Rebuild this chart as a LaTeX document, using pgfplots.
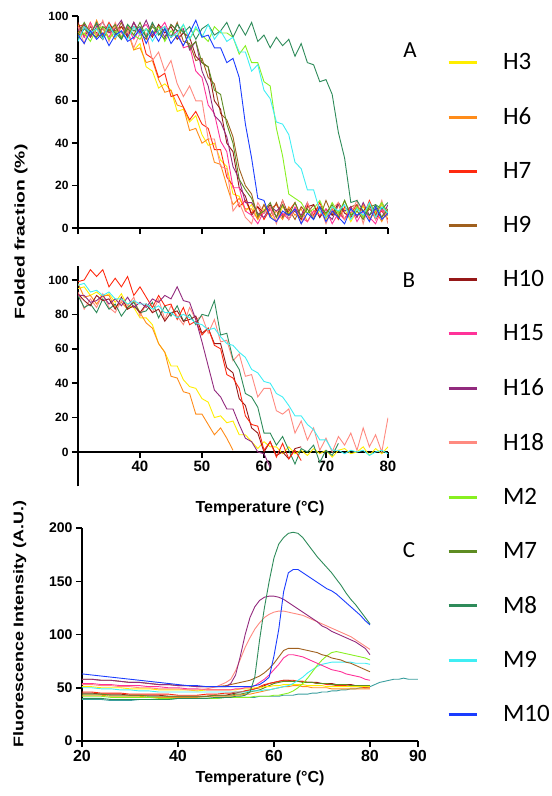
\documentclass[border=0pt]{standalone}
\usepackage{pgfplots}
\pgfplotsset{compat=1.18}
\usepackage{pgfplotstable}
\usepackage{graphicx}
\usepackage{fontspec}
\setmainfont{Liberation Sans}
\newfontfamily\carlito{Carlito}

\definecolor{cH3}{HTML}{FFEE00}
\definecolor{cH6}{HTML}{FF8C1A}
\definecolor{cH7}{HTML}{FF2A10}
\definecolor{cH9}{HTML}{A0601E}
\definecolor{cH10}{HTML}{961818}
\definecolor{cH15}{HTML}{FF3399}
\definecolor{cH16}{HTML}{922A7E}
\definecolor{cH18}{HTML}{FF8A80}
\definecolor{cM2}{HTML}{88F020}
\definecolor{cM7}{HTML}{5E8C22}
\definecolor{cM8}{HTML}{2E8B5A}
\definecolor{cM9}{HTML}{40EEF4}
\definecolor{cM10}{HTML}{1A3CFF}
\definecolor{cT}{HTML}{3A9E9E}

\pgfplotstableread{
x H3 H6 H7 H9 H10 H15 H16 H18 M2 M7 M8 M9 M10
30 96 92 95 90 97 95 93 95 90 91 89 88 91
31 91 96 96 95 90 90 96 87 92 97 94 95 87
32 97 90 90 93 95 97 90 96 88 92 91 92 93
33 90 98 94 96 92 91 95 91 94 90 97 94 89
34 94 91 91 89 89 94 97 98 95 95 90 89 92
35 89 93 97 94 96 90 92 88 89 93 95 96 86
36 95 89 92 91 93 96 94 97 93 96 92 90 91
37 92 95 90 97 95 92 98 90 90 89 89 93 93
38 93 93 95 90 90 95 91 93 96 94 96 89 88
39 84 84 93 95 97 89 97 85 91 91 93 95 90
40 87 85 93 92 91 94 92 92 89 97 95 91 94
41 76 78 82 89 94 96 98 92 94 90 90 94 87
42 74 79 80 96 90 91 91 79 92 95 97 88 93
43 66 70 71 93 96 93 95 83 95 92 91 93 88
44 68 64 73 95 92 97 90 74 88 89 94 95 94
45 65 65 62 90 95 90 96 79 93 96 90 90 87
46 55 58 63 97 89 93 93 68 90 93 96 92 91
47 56 57 57 88 92 85 94 62 96 93 92 96 86
48 50 46 51 87 90 86 84 67 89 85 95 89 92
49 53 47 55 79 81 74 88 60 94 88 89 95 98
50 44 40 49 80 78 71 74 60 91 78 94 90 90
51 39 42 47 71 76 58 67 42 88 76 96 96 91
52 40 31 37 68 60 54 53 42 95 65 91 89 85
53 32 30 37 54 56 41 50 29 92 63 93 93 85
54 29 20 24 51 40 36 43 28 92 49 97 88 78
55 16 11 20 43 36 19 29 8 90 40 90 90 80
56 15 14 10 28 19 19 23 12 82 23 96 83 71
57 8 9 13 20 15 8 12 5 86 18 91 83 49
58 11 9 7 16 6 6 12 2 78 14 97 74 33
59 4 4 10 5 10 2 7 12 78 6 88 77 14
60 9 11 4 11 7 8 5 7 69 8 91 65 13
61 6 5 9 6 11 9 10 10 67 12 85 61 5
62 3 8 11 12 5 3 8 2 47 5 90 50 3
63 10 4 6 5 13 7 11 13 34 11 86 49 8
64 7 10 8 9 6 4 4 4 16 6 89 44 6
65 9 6 12 4 8 10 9 9 14 12 81 31 9
66 4 9 5 10 4 5 6 2 12 5 87 28 2
67 11 3 11 7 10 3 12 12 7 9 78 18 7
68 5 8 6 11 11 8 5 5 9 4 77 18 4
69 8 10 12 5 5 6 10 10 13 10 69 8 10
70 4 5 5 13 9 9 7 2 6 7 70 5 3
71 10 7 9 6 6 2 4 9 12 11 63 10 8
72 6 11 4 8 12 7 11 12 7 5 45 8 5
73 9 4 10 4 7 4 8 4 13 13 33 11 2
74 3 10 7 10 5 10 10 7 6 6 12 4 9
75 8 5 11 11 10 3 5 13 10 8 13 9 6
76 10 11 5 5 8 8 12 2 5 4 8 6 8
77 5 4 13 9 11 5 6 12 11 10 6 12 3
78 7 8 6 6 4 2 9 4 8 11 11 5 10
79 11 3 8 12 9 9 5 13 12 5 9 10 4
80 4 9 4 7 6 6 11 2 6 9 12 7 7
}\tabA

\pgfplotstableread{
x H3 H6 H7 H10 H16 H18 M8 M9
30 95 98 99 92 91 93 91 97
31 96 90 100 88 91 83 84 98
32 91 91 106 85 87 89 86 93
33 93 86 102 91 88 84 81 94
34 90 91 106 88 91 92 89 91
35 92 91 96 89 86 84 83 93
36 87 84 101 83 89 81 86 89
37 92 87 96 90 85 88 79 89
38 85 83 102 83 90 85 84 86
39 84 88 91 85 84 90 87 88
40 78 81 96 81 87 79 81 86
41 78 75 90 86 84 86 82 86
42 74 72 84 81 89 81 87 83
43 63 63 91 83 87 89 78 85
44 58 58 85 76 91 77 85 81
45 50 44 86 81 89 85 79 81
46 50 43 77 82 96 79 85 78
47 42 35 84 76 88 74 76 80
48 38 34 74 77 87 84 80 78
49 37 22 76 79 77 77 74 75
50 31 22 68 69 64 79 80 74
51 29 16 72 72 50 69 79 71
52 20 10 62 63 36 77 88 72
53 21 14 60 63 32 64 68 67
54 17 8 45 49 25 65 69 63
55 18 1 43 46 25 53 54 62
56 10 nan 37 31 16 57 48 58
57 10 nan 21 27 8 44 34 55
58 6 nan 16 14 6 45 32 48
59 2 nan 15 11 0 32 26 46
60 6 nan 1 0 -1 37 11 41
61 3 nan 6 6 -9 37 11 40
62 3 nan -3 -2 nan 24 4 34
63 -1 nan 5 0 nan 22 9 32
64 3 nan -4 -4 nan 25 1 27
65 -1 nan 1 2 nan 11 -7 21
66 1 nan -5 3 nan 18 2 21
67 -2 nan nan nan nan 7 0 16
68 2 nan nan nan nan 14 4 13
69 -1 nan nan nan nan 1 -6 7
70 1 nan nan nan nan 8 1 7
71 -3 nan nan nan nan 0 -2 1
72 1 nan nan nan nan 9 5 1
73 2 nan nan nan nan 4 nan -1
74 -1 nan nan nan nan 11 nan 1
75 0 nan nan nan nan 1 nan 0
76 3 nan nan nan nan 14 nan 1
77 -2 nan nan nan nan 3 nan -2
78 2 nan nan nan nan 10 nan 0
79 -1 nan nan nan nan 0 nan 1
80 3 nan nan nan nan 20 nan -1
}\tabB

\pgfplotstableread{
x H3 H6 H7 H9 H10 H15 H16 H18 M2 M7 M8 M9 M10 T
20 51 43 46 58 45 54 58 53 42 44 40 50 63 39
22 51 43 46 58 45 54 58 53 42 44 40 50 62 39
24 50 43 45 57 44 53 57 52 42 44 40 49 61 39
26 50 42 45 57 44 53 57 52 41 43 39 49 60 38
28 50 42 45 56 44 52 56 51 41 43 39 48 59 38
30 49 42 44 55 43 52 55 51 41 43 39 48 58 38
32 49 42 44 55 43 52 55 50 41 43 39 47 57 39
34 49 41 44 54 43 51 54 50 41 42 39 47 56 39
36 48 41 44 53 43 51 53 49 40 42 39 46 55 39
38 48 41 44 53 42 50 53 49 40 42 39 46 54 39
40 48 41 43 52 42 50 52 49 40 42 40 46 53 40
42 48 41 43 52 42 49 52 48 40 42 40 46 52 40
44 47 41 43 51 42 49 51 48 40 42 40 46 52 40
46 48 42 44 51 42 48 51 49 40 42 40 46 51 40
48 48 42 44 51 43 48 51 51 40 43 41 46 51 40
50 48 42 45 52 43 48 51 55 41 43 41 46 51 41
51 48 42 45 53 44 48 54 58 41 43 41 46 51 41
52 48 43 46 54 45 49 62 66 41 44 42 46 51 41
53 49 43 46 55 46 49 80 77 41 44 42 46 51 41
54 49 44 47 56 47 50 100 88 41 45 43 46 51 41
55 49 44 48 57 48 50 116 97 41 46 46 47 51 41
56 50 45 49 59 49 52 126 105 42 47 60 47 52 41
57 50 46 51 61 50 55 132 111 42 48 95 47 53 42
58 51 47 53 64 52 58 135 116 42 50 125 48 56 42
59 51 48 54 68 54 62 136 119 42 52 150 48 60 42
60 52 49 55 73 55 67 136 121 43 54 172 49 80 42
61 52 50 56 79 56 72 135 122 43 55 185 50 105 42
62 53 51 57 85 57 78 133 122 44 56 191 51 140 43
63 53 51 57 87 57 81 130 121 45 56 195 52 158 43
64 53 52 57 87 56 81 127 120 47 56 196 54 161 43
65 53 52 56 87 56 80 124 119 50 56 195 57 161 44
66 53 51 56 86 56 79 121 118 54 55 191 60 158 44
67 52 51 55 85 55 77 118 116 59 55 185 64 155 44
68 52 50 55 84 55 75 115 114 65 55 179 67 152 45
69 52 50 54 83 55 73 112 112 71 54 173 70 149 45
70 52 50 54 81 54 71 108 110 76 54 168 72 146 46
71 51 50 53 80 54 69 106 108 80 54 163 73 143 46
72 51 49 53 78 54 67 103 106 83 53 158 74 141 47
73 51 49 52 77 53 66 101 104 84 53 152 74 138 47
74 51 49 52 76 53 65 99 102 83 53 146 74 134 48
75 51 49 52 74 53 63 97 100 82 53 139 74 130 48
76 51 49 51 73 53 62 95 98 81 52 133 74 126 49
77 51 49 51 71 52 61 93 95 80 52 128 73 122 49
78 51 49 51 69 52 60 90 92 79 52 122 73 118 50
79 51 49 50 67 52 58 87 89 78 52 116 73 113 50
80 51 49 50 65 52 57 81 86 76 52 110 72 109 51
81 nan nan nan nan nan nan nan nan nan nan nan nan nan 53
82 nan nan nan nan nan nan nan nan nan nan nan nan nan 55
83 nan nan nan nan nan nan nan nan nan nan nan nan nan 56
84 nan nan nan nan nan nan nan nan nan nan nan nan nan 57
85 nan nan nan nan nan nan nan nan nan nan nan nan nan 58
86 nan nan nan nan nan nan nan nan nan nan nan nan nan 58
87 nan nan nan nan nan nan nan nan nan nan nan nan nan 59
88 nan nan nan nan nan nan nan nan nan nan nan nan nan 58
89 nan nan nan nan nan nan nan nan nan nan nan nan nan 58
90 nan nan nan nan nan nan nan nan nan nan nan nan nan 58
}\tabC

\pgfplotsset{
  panel/.style={
    scale only axis,
    axis line style={line width=1.5pt},
    every tick/.style={black, line width=1.5pt},
    major tick length=6pt,
    tick align=outside,
    /pgf/number format/assume math mode=true,
    yticklabel style={font=\bfseries\fontsize{12}{12}\selectfont},
    xticklabel style={font=\bfseries\fontsize{15}{15}\selectfont},
    every axis plot/.append style={line width=0.9pt, mark=none},
    label style={font=\bfseries\fontsize{14}{14}\selectfont},
  }
}

\begin{document}
\begin{tikzpicture}
\useasboundingbox (0pt,0pt) rectangle (552pt,796pt);

% Panel A
\begin{axis}[panel,
  at={(78pt,568pt)}, anchor=south west, width=310pt, height=212pt,
  xmin=30, xmax=80, ymin=0, ymax=100,
  axis x line*=bottom, axis y line*=left,
  xtick={30,40,50,60,70,80}, xticklabels={},
  ytick={0,20,40,60,80,100},
  ylabel={\scalebox{1.38}[1]{Folded fraction (\%)}},
  ylabel style={at={(axis description cs:-0.184,-0.019)}, anchor=center},
  legend entries={H3,H6,H7,H9,H10,H15,H16,H18,M2,M7,M8,M9,M10},
  legend cell align=left,
  legend image code/.code={\draw[#1, line width=3pt] (0pt,0pt) -- (28pt,0pt);},
  legend style={at={(1.190,0.823)}, anchor=north west, draw=none, fill=none,
    inner sep=0pt, row sep=36.4pt, column sep=25pt,
    font=\carlito\fontsize{25}{25}\selectfont, nodes={inner sep=0pt}},
]
\addplot[cH3]  table[x=x,y=H3]{\tabA};
\addplot[cH6]  table[x=x,y=H6]{\tabA};
\addplot[cH7]  table[x=x,y=H7]{\tabA};
\addplot[cH9]  table[x=x,y=H9]{\tabA};
\addplot[cH10] table[x=x,y=H10]{\tabA};
\addplot[cH15] table[x=x,y=H15]{\tabA};
\addplot[cH16] table[x=x,y=H16]{\tabA};
\addplot[cH18] table[x=x,y=H18]{\tabA};
\addplot[cM2]  table[x=x,y=M2]{\tabA};
\addplot[cM7]  table[x=x,y=M7]{\tabA};
\addplot[cM8]  table[x=x,y=M8]{\tabA};
\addplot[cM9]  table[x=x,y=M9]{\tabA};
\addplot[cM10] table[x=x,y=M10]{\tabA};
\end{axis}

% Panel B
\begin{axis}[panel,
  at={(78pt,309.6pt)}, anchor=south west, width=310pt, height=220.2pt,
  xmin=30, xmax=80, ymin=-20, ymax=108,
  axis x line*=middle, axis y line*=left,
  xtick={40,50,60,70,80},
  ytick={0,20,40,60,80,100},
  xlabel={Temperature (°C)},
  xlabel style={at={(axis description cs:0.587,-0.098)}, anchor=center, font=\bfseries\fontsize{16}{16}\selectfont},
]
\addplot[cH3]  table[x=x,y=H3]{\tabB};
\addplot[cH6]  table[x=x,y=H6]{\tabB};
\addplot[cH18] table[x=x,y=H18]{\tabB};
\addplot[cM8]  table[x=x,y=M8]{\tabB};
\addplot[cH10] table[x=x,y=H10]{\tabB};
\addplot[cH7]  table[x=x,y=H7]{\tabB};
\addplot[cH16] table[x=x,y=H16]{\tabB};
\addplot[cM9]  table[x=x,y=M9]{\tabB};
\end{axis}

% Panel C
\begin{axis}[panel,
  at={(82pt,55pt)}, anchor=south west, width=336pt, height=213pt,
  xmin=20, xmax=90, ymin=0, ymax=200,
  axis x line*=bottom, axis y line*=left,
  xtick={20,40,60,80,90},
  ytick={0,50,100,150,200},
  yticklabel style={font=\bfseries\fontsize{14}{14}\selectfont},
  xticklabel style={font=\bfseries\fontsize{16}{16}\selectfont},
  xlabel={Temperature (°C)},
  xlabel style={at={(axis description cs:0.530,-0.174)}, anchor=center, font=\bfseries\fontsize{16}{16}\selectfont},
  ylabel={\scalebox{1.28}[1]{Fluorescence Intensity (A.U.)}},
  ylabel style={at={(axis description cs:-0.185,0.549)}, anchor=center},
]
\addplot[cT]   table[x=x,y=T]{\tabC};
\addplot[cH6]  table[x=x,y=H6]{\tabC};
\addplot[cH10] table[x=x,y=H10]{\tabC};
\addplot[cH7]  table[x=x,y=H7]{\tabC};
\addplot[cM7]  table[x=x,y=M7]{\tabC};
\addplot[cH3]  table[x=x,y=H3]{\tabC};
\addplot[cM9]  table[x=x,y=M9]{\tabC};
\addplot[cM2]  table[x=x,y=M2]{\tabC};
\addplot[cH15] table[x=x,y=H15]{\tabC};
\addplot[cH9]  table[x=x,y=H9]{\tabC};
\addplot[cH18] table[x=x,y=H18]{\tabC};
\addplot[cH16] table[x=x,y=H16]{\tabC};
\addplot[cM10] table[x=x,y=M10]{\tabC};
\addplot[cM8]  table[x=x,y=M8]{\tabC};
\end{axis}

\node[inner sep=0pt, font=\carlito\fontsize{23}{23}\selectfont] at (410pt,746pt) {A};
\node[inner sep=0pt, font=\carlito\fontsize{23}{23}\selectfont] at (409pt,516pt) {B};
\node[inner sep=0pt, font=\carlito\fontsize{23}{23}\selectfont] at (409pt,246pt) {C};
\end{tikzpicture}
\end{document}
